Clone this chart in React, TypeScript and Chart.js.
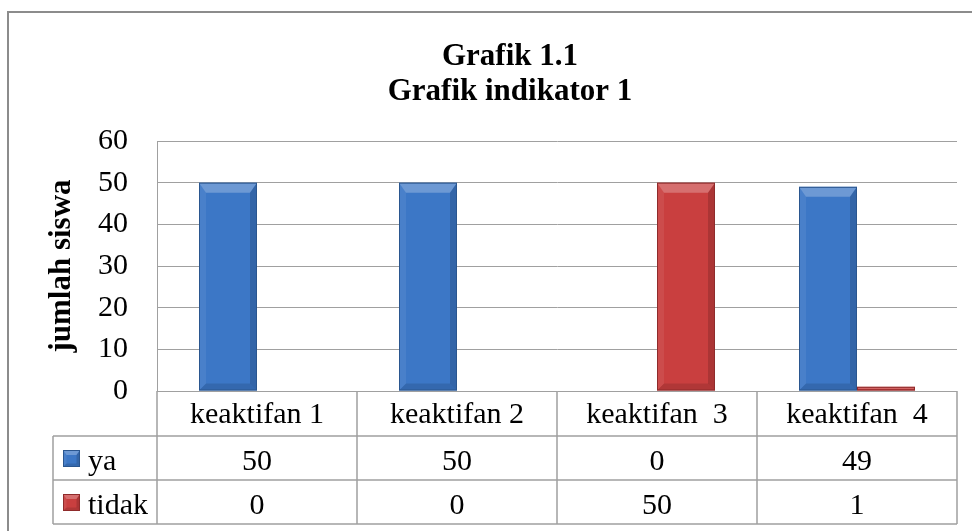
import React, { useEffect, useRef } from 'react';
import { Chart, registerables } from 'chart.js';

Chart.register(...registerables);

// ---- data ----
const categories = ['keaktifan 1', 'keaktifan 2', 'keaktifan  3', 'keaktifan  4'];
const yaValues = [50, 50, 0, 49];
const tidakValues = [0, 0, 50, 1];
const seriesNames = ['ya', 'tidak'];
const yTicks = [0, 10, 20, 30, 40, 50, 60];
const titleLines = ['Grafik 1.1', 'Grafik indikator 1'];
const yAxisTitle = 'jumlah siswa';

// ---- styles ----
const FONT = "'Liberation Serif', 'Times New Roman', serif";
const GRID = '#a0a0a0';
const COLORS = ['#3c77c6', '#c93f3f'];
const EDGE = ['#2a568f', '#8f2b2b'];

function drawBevel(ctx: CanvasRenderingContext2D, l: number, t: number, r: number, b: number, edge: string, d: number) {
  const h = b - t;
  const w = r - l;
  const bb = Math.min(d, h / 2, w / 2);
  const sb = Math.min(bb * 0.7, w / 2);
  ctx.save();
  // top
  ctx.beginPath();
  ctx.moveTo(l, t); ctx.lineTo(r, t); ctx.lineTo(r - sb, t + bb); ctx.lineTo(l + sb, t + bb); ctx.closePath();
  ctx.fillStyle = 'rgba(255,255,255,0.25)';
  ctx.fill();
  // left
  ctx.beginPath();
  ctx.moveTo(l, t); ctx.lineTo(l + sb, t + bb); ctx.lineTo(l + sb, b - sb); ctx.lineTo(l, b); ctx.closePath();
  ctx.fillStyle = 'rgba(255,255,255,0.07)';
  ctx.fill();
  // right
  ctx.beginPath();
  ctx.moveTo(r, t); ctx.lineTo(r - sb, t + bb); ctx.lineTo(r - sb, b - sb); ctx.lineTo(r, b); ctx.closePath();
  ctx.fillStyle = 'rgba(0,0,0,0.15)';
  ctx.fill();
  // bottom
  ctx.beginPath();
  ctx.moveTo(l, b); ctx.lineTo(l + sb, b - sb); ctx.lineTo(r - sb, b - sb); ctx.lineTo(r, b); ctx.closePath();
  ctx.fillStyle = 'rgba(0,0,0,0.12)';
  ctx.fill();
  // outline
  ctx.strokeStyle = edge;
  ctx.lineWidth = 1;
  ctx.strokeRect(l + 0.5, t + 0.5, w - 1, h - 1);
  ctx.restore();
}

const framePlugin = {
  id: 'frame',
  beforeDraw(chart: any) {
    const { ctx, width, height } = chart;
    ctx.save();
    ctx.fillStyle = '#ffffff';
    ctx.fillRect(0, 0, width, height);
    ctx.strokeStyle = '#8c8c8c';
    ctx.lineWidth = 2;
    ctx.beginPath();
    ctx.moveTo(8, height + 2);
    ctx.lineTo(8, 12);
    ctx.lineTo(width + 2, 12);
    ctx.stroke();
    ctx.restore();
  },
};

const bevelPlugin = {
  id: 'bevel',
  afterDatasetsDraw(chart: any) {
    const { ctx } = chart;
    chart.data.datasets.forEach((_ds: any, di: number) => {
      const meta = chart.getDatasetMeta(di);
      meta.data.forEach((bar: any) => {
        const { x, y, base, width } = bar.getProps(['x', 'y', 'base', 'width'], true);
        const t = Math.min(y, base);
        const b = Math.max(y, base);
        if (b - t < 0.5) return;
        drawBevel(ctx, x - width / 2, t, x + width / 2, b, EDGE[di], 10);
      });
    });
  },
};

const tablePlugin = {
  id: 'dataTable',
  afterDraw(chart: any) {
    const { ctx, chartArea } = chart;
    const xs = chart.scales.x;
    const top = chartArea.bottom;
    const headerH = 45;
    const rowH = 44;
    const rowTops = [top + headerH, top + headerH + rowH];
    const bottom = top + headerH + rowH * 2;
    const legendLeft = 53;
    const n = categories.length;
    const centers = categories.map((_c, i) => xs.getPixelForValue(i));
    const bounds = [chartArea.left];
    for (let i = 0; i < n - 1; i++) bounds.push((centers[i] + centers[i + 1]) / 2);
    bounds.push(chartArea.right);

    ctx.save();
    ctx.strokeStyle = GRID;
    ctx.lineWidth = 1.5;
    ctx.beginPath();
    [rowTops[0], rowTops[1], bottom].forEach((yy) => {
      ctx.moveTo(legendLeft, yy);
      ctx.lineTo(chartArea.right, yy);
    });
    bounds.forEach((bx) => {
      ctx.moveTo(bx, top);
      ctx.lineTo(bx, bottom);
    });
    ctx.moveTo(legendLeft, rowTops[0]);
    ctx.lineTo(legendLeft, bottom);
    ctx.stroke();

    const rows = [yaValues, tidakValues];
    ctx.font = `30px ${FONT}`;
    ctx.textBaseline = 'alphabetic';
    rows.forEach((vals, ri) => {
      const by = rowTops[ri] + 34;
      ctx.textAlign = 'center';
      ctx.fillStyle = '#000';
      vals.forEach((v, i) => ctx.fillText(String(v), centers[i], by));
      const sy = rowTops[ri] + 14;
      ctx.fillStyle = COLORS[ri];
      ctx.fillRect(63, sy, 17, 17);
      drawBevel(ctx, 63, sy, 80, sy + 17, EDGE[ri], 5);
      ctx.fillStyle = '#000';
      ctx.textAlign = 'left';
      ctx.fillText(seriesNames[ri], 88, by);
    });
    ctx.restore();
  },
};

export default function App() {
  const ref = useRef<HTMLCanvasElement | null>(null);

  useEffect(() => {
    if (!ref.current) return;
    const chart = new Chart(ref.current, {
      type: 'bar',
      data: {
        labels: categories,
        datasets: [
          {
            label: seriesNames[0],
            data: yaValues,
            backgroundColor: COLORS[0],
            borderWidth: 0,
            categoryPercentage: 0.58,
            barPercentage: 1,
          },
          {
            label: seriesNames[1],
            data: tidakValues,
            backgroundColor: COLORS[1],
            borderWidth: 0,
            categoryPercentage: 0.58,
            barPercentage: 1,
          },
        ],
      },
      options: {
        responsive: false,
        animation: false,
        devicePixelRatio: 1,
        layout: { padding: { left: 63, right: 15, top: 12, bottom: 0 } },
        plugins: {
          legend: { display: false },
          tooltip: { enabled: false },
          title: {
            display: true,
            text: titleLines,
            color: '#000',
            font: { family: FONT, size: 31, weight: 'bold', lineHeight: 35 / 31 },
            padding: { top: 27, bottom: 32 },
          },
        },
        scales: {
          x: {
            grid: { display: false, drawTicks: false },
            border: { display: false },
            ticks: {
              color: '#000',
              font: { family: FONT, size: 30, lineHeight: 1 },
              padding: 9,
              autoSkip: false,
              maxRotation: 0,
              minRotation: 0,
            },
            afterFit(s: any) {
              s.height = 140;
            },
          },
          y: {
            min: yTicks[0],
            max: yTicks[yTicks.length - 1],
            ticks: {
              stepSize: yTicks[1] - yTicks[0],
              padding: 29,
              color: '#000',
              font: { family: FONT, size: 30 },
            },
            grid: { color: GRID, lineWidth: 1, drawTicks: false },
            border: { display: true, color: GRID, width: 1 },
            title: {
              display: true,
              text: yAxisTitle,
              color: '#000',
              font: { family: FONT, size: 31, weight: 'bold', lineHeight: 1.2 },
              padding: { top: -20, bottom: 0 },
            },
            afterFit(s: any) {
              s.width = 94;
            },
          },
        },
      },
      plugins: [framePlugin, bevelPlugin, tablePlugin],
    });
    return () => chart.destroy();
  }, []);

  return (
    <div style={{ position: 'fixed', left: 0, top: 0, width: 972, height: 531, background: '#fff' }}>
      <canvas ref={ref} width={972} height={531} style={{ display: 'block' }} />
    </div>
  );
}
